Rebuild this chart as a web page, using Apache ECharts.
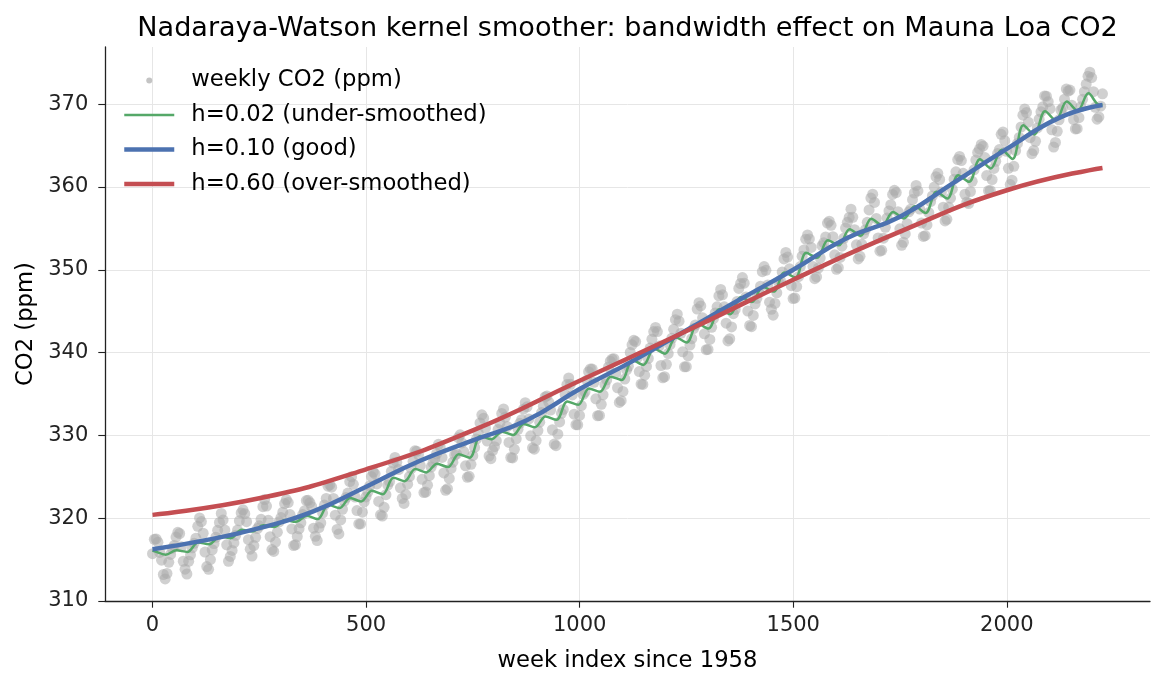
<!DOCTYPE html>
<html><head><meta charset="utf-8">
<script src="https://cdn.jsdelivr.net/npm/echarts@6/dist/echarts.min.js"></script>
<style>html,body{margin:0;padding:0;background:#fff}#c{width:1165px;height:685px}</style>
</head><body><div id="c"></div>
<script>
// CO2 readings (ppm), one value per month from Mar 1958 to Dec 2001
const co2 = [
315.71,317.45,317.50,317.10,315.86,314.93,313.20,312.66,313.33,314.67,
315.62,316.38,316.71,317.72,318.29,318.15,316.54,314.80,313.84,313.26,314.80,315.58,
316.43,316.97,317.58,319.02,320.03,319.59,318.18,315.91,314.16,313.83,315.00,316.19,
316.93,317.70,318.54,319.48,320.58,319.77,318.57,316.79,314.80,315.38,316.10,317.01,
317.94,318.56,319.68,320.63,321.01,320.55,319.58,317.40,316.26,315.42,316.69,317.69,
318.74,319.08,319.86,321.39,322.25,321.47,319.74,317.77,316.21,315.99,317.12,318.31,
319.57,320.07,320.73,321.77,322.25,321.89,320.44,318.70,316.70,316.79,317.79,318.71,
319.44,320.44,320.89,322.13,322.16,321.87,321.39,318.80,317.81,317.30,318.87,319.42,
320.62,321.59,322.39,323.87,324.01,323.75,322.39,320.37,318.64,318.10,319.79,321.08,
322.07,322.50,323.04,324.42,325.00,324.09,322.55,320.92,319.31,319.31,320.72,321.96,
322.57,323.15,323.89,325.02,325.57,325.36,324.14,322.03,320.41,320.25,321.31,322.84,
324.00,324.42,325.64,326.66,327.34,326.76,325.88,323.67,322.38,321.78,322.85,324.11,
325.03,325.99,326.87,328.13,328.07,327.66,326.35,324.69,323.10,323.16,323.98,325.13,
326.17,326.68,327.18,327.78,328.92,328.57,327.34,325.46,323.36,323.57,324.80,326.01,
326.77,327.63,327.75,329.72,330.07,329.09,328.05,326.32,324.93,325.06,326.50,327.55,
328.54,329.56,330.30,331.50,332.48,332.07,330.87,329.31,327.51,327.18,328.16,328.64,
329.35,330.71,331.48,332.65,333.19,332.20,331.07,329.15,327.33,327.28,328.31,329.58,
330.73,331.46,331.90,333.17,333.94,333.45,331.98,329.95,328.50,328.34,329.37,330.58,
331.59,332.75,333.52,334.64,334.77,334.00,333.06,330.68,328.95,328.75,330.15,331.62,
332.66,333.13,334.95,336.13,336.93,336.17,334.88,332.56,331.29,331.27,332.41,333.60,
334.95,335.25,336.66,337.69,338.03,338.01,336.41,334.41,332.37,332.41,333.75,334.90,
336.14,336.69,338.27,338.96,339.21,339.26,337.54,335.75,333.98,334.19,335.31,336.81,
337.90,338.34,340.01,340.93,341.48,341.33,339.40,337.70,336.19,336.15,337.27,338.32,
339.29,340.55,341.61,342.53,343.03,342.54,340.78,338.44,336.95,337.08,338.58,339.88,
340.96,341.73,342.81,343.97,344.63,343.79,342.32,340.09,338.28,338.29,339.60,340.90,
341.68,342.90,343.33,345.25,346.03,345.63,344.19,342.27,340.35,340.38,341.59,343.05,
344.10,344.79,345.52,346.84,347.63,346.98,345.53,343.55,341.40,341.67,343.10,344.70,
345.21,346.16,347.74,348.34,349.06,348.38,346.72,345.02,343.27,343.13,344.49,345.88,
346.56,347.28,348.01,349.77,350.38,349.93,348.16,346.08,345.22,344.51,345.93,347.22,
348.52,348.73,349.73,351.31,352.09,351.53,350.11,348.08,346.52,346.59,347.96,349.16,
350.39,351.64,352.40,353.69,354.21,353.72,352.69,350.40,348.92,349.13,350.20,351.41,
352.91,353.27,353.96,355.64,355.86,355.37,353.99,351.81,350.05,350.25,351.49,352.85,
353.80,355.04,355.73,356.32,357.32,356.34,354.84,353.01,351.31,351.62,353.07,354.33,
354.84,355.73,357.23,358.66,359.13,358.13,356.19,353.85,352.25,352.35,353.81,355.12,
356.25,357.11,357.86,359.09,359.59,359.33,357.01,354.94,352.96,353.32,354.32,355.57,
357.00,357.31,358.47,359.27,360.19,359.52,357.33,355.64,354.03,354.12,355.41,356.91,
358.24,358.92,359.99,361.23,361.65,360.90,359.38,357.56,355.89,356.09,357.56,358.65,
359.73,360.94,361.83,363.30,363.69,363.19,361.64,359.12,358.17,357.99,359.45,360.68,
362.07,363.24,364.17,364.57,365.13,364.92,363.55,361.38,359.54,359.58,360.89,362.24,
363.09,364.03,364.51,366.35,366.64,365.59,364.31,362.25,360.29,360.82,362.49,364.38,
365.26,365.98,367.24,368.66,369.42,368.99,367.82,365.95,364.02,364.40,365.52,367.13,
368.18,369.07,369.68,370.99,370.96,370.30,369.45,366.90,364.81,365.37,366.72,368.10,
369.29,369.55,370.60,371.82,371.58,371.70,369.86,368.13,367.00,367.03,368.37,369.67,
370.59,371.51,372.43,373.37,373.85,373.21,371.51,369.61,368.18,368.45,369.76,371.24
];
const lastWeek = 2224;           // week index of the final reading
const weeksPerMonth = lastWeek / (co2.length - 1);

// h=0.02 curve: value at each yearly crest (late April) and trough (late October), 1958-2001
const greenStart = 316.1, greenEnd = 369.95;
const greenCrest = [316.0,316.13,317.06,317.79,318.60,319.14,319.77,320.29,321.62,322.43,323.30,324.87,325.93,326.57,327.71,329.93,330.44,331.38,332.28,334.09,335.66,337.09,339.11,340.47,341.83,343.50,345.22,346.70,347.96,349.66,352.04,353.55,354.90,356.15,356.99,357.66,359.41,361.42,363.34,364.48,367.44,369.14,370.31,371.3];
const greenTrough = [315.6,315.93,316.86,317.59,318.40,318.94,319.57,319.89,321.22,322.03,322.90,324.47,325.53,326.17,327.31,329.53,330.04,330.98,331.88,333.69,335.26,336.69,338.51,339.87,341.23,342.90,344.62,346.10,347.36,349.06,351.44,352.95,354.10,355.35,356.19,356.86,358.61,360.62,362.24,363.38,366.34,368.04,369.21,369.9];

// h=0.10 curve
const blueWeeks = [0,125,250,375,500,625,750,875,1000,1125,1250,1375,1500,1625,1750,1875,2000,2125,2224];
const blueVals  = [316.25,317.35,318.8,320.8,323.8,326.9,329.4,331.8,335.6,339.0,342.7,346.4,350.0,353.8,356.4,360.5,364.6,368.4,369.9];

// h=0.60 curve
const redWeeks = [0,250,500,750,1000,1250,1500,1750,2000,2224];
const redVals  = [320.4,322.4,325.9,330.6,336.6,342.6,348.8,354.6,359.6,362.3];

const xTicks = [0,500,1000,1500,2000];
const yTicks = [310,320,330,340,350,360,370];

const scatterData = co2.map((v, i) => [i * weeksPerMonth, v]);
const greenData = [[0, greenStart]];
greenCrest.forEach((v, k) => {
  greenData.push([(1.25 + 12 * k) * weeksPerMonth, v]);
  greenData.push([(7.25 + 12 * k) * weeksPerMonth, greenTrough[k]]);
});
greenData.push([lastWeek, greenEnd]);
const blueData = blueWeeks.map((w, i) => [w, blueVals[i]]);
const redData = redWeeks.map((w, i) => [w, redVals[i]]);

const FONT = 'DejaVu Sans';
const plain = v => String(v);
const chart = echarts.init(document.getElementById('c'), null, {renderer: 'canvas'});
chart.setOption({
  backgroundColor: '#ffffff',
  animation: false,
  title: {
    text: 'Nadaraya-Watson kernel smoother: bandwidth effect on Mauna Loa CO2',
    left: 622.5, top: 10, textAlign: 'center',
    textStyle: {fontFamily: FONT, fontSize: 27.1, fontWeight: 'normal', color: '#000'}
  },
  legend: {
    orient: 'vertical', left: 117, top: 64,
    itemWidth: 50, itemHeight: 6, itemGap: 11.5,
    textStyle: {fontFamily: FONT, fontSize: 22.7, color: '#000', lineHeight: 23, padding: [0, 0, 0, 12]},
    data: [
      {name: 'weekly CO2 (ppm)', icon: 'circle', itemStyle: {color: '#c4c4c4', opacity: 1}},
      {name: 'h=0.02 (under-smoothed)', itemStyle: {opacity: 0}, lineStyle: {width: 2.5, color: '#55a868'}},
      {name: 'h=0.10 (good)', itemStyle: {opacity: 0}, lineStyle: {width: 4.5, color: '#4c72b0'}},
      {name: 'h=0.60 (over-smoothed)', itemStyle: {opacity: 0}, lineStyle: {width: 4.5, color: '#c44e52'}}
    ]
  },
  grid: {left: 105, right: 15, top: 47, bottom: 84, containLabel: false},
  xAxis: {
    type: 'value', min: -111.2, max: 2335.2, splitNumber: 5,
    name: 'week index since 1958', nameLocation: 'middle', nameGap: 49,
    nameTextStyle: {fontFamily: FONT, fontSize: 22.7, color: '#000'},
    axisLine: {show: true, onZero: false, lineStyle: {color: '#222', width: 1.3}},
    axisTick: {show: true, length: 6.7, customValues: xTicks, lineStyle: {color: '#222', width: 1.1}},
    axisLabel: {customValues: xTicks, formatter: plain, fontFamily: FONT, fontSize: 21, color: '#222', margin: 14},
    splitLine: {show: true, lineStyle: {color: '#e6e6e6', width: 1}}
  },
  yAxis: {
    type: 'value', min: 310, max: 376.9, splitNumber: 5,
    name: 'CO2 (ppm)', nameLocation: 'middle', nameGap: 66,
    nameTextStyle: {fontFamily: FONT, fontSize: 22.7, color: '#000'},
    axisLine: {show: true, onZero: false, lineStyle: {color: '#222', width: 1.3}},
    axisTick: {show: true, length: 6.7, customValues: yTicks, lineStyle: {color: '#222', width: 1.1}},
    axisLabel: {customValues: yTicks, formatter: plain, fontFamily: FONT, fontSize: 21, color: '#222', margin: 16.7},
    splitLine: {show: true, lineStyle: {color: '#e6e6e6', width: 1}}
  },
  series: [
    {name: 'weekly CO2 (ppm)', type: 'scatter', data: scatterData, symbolSize: 11,
     itemStyle: {color: '#aaaaaa', opacity: 0.55}, z: 1},
    {name: 'h=0.02 (under-smoothed)', type: 'line', data: greenData, showSymbol: false, symbol: 'none',
     smooth: 0.35, lineStyle: {color: '#55a868', width: 2.5}, itemStyle: {color: '#55a868'}, z: 2},
    {name: 'h=0.10 (good)', type: 'line', data: blueData, showSymbol: false, symbol: 'none',
     smooth: true, lineStyle: {color: '#4c72b0', width: 4.5}, itemStyle: {color: '#4c72b0'}, z: 3},
    {name: 'h=0.60 (over-smoothed)', type: 'line', data: redData, showSymbol: false, symbol: 'none',
     smooth: true, lineStyle: {color: '#c44e52', width: 4.5}, itemStyle: {color: '#c44e52'}, z: 4}
  ]
});
</script></body></html>
